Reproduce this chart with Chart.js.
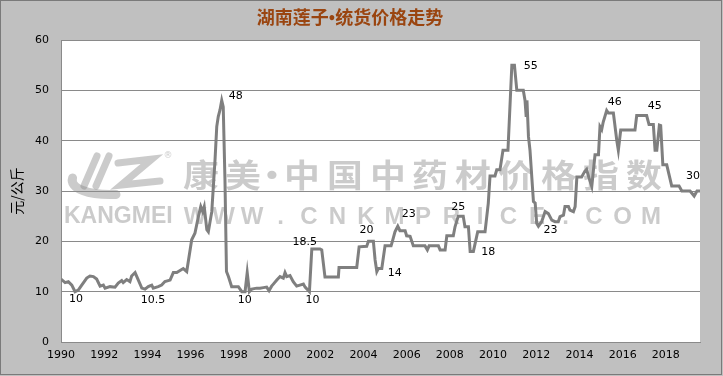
<!DOCTYPE html>
<html>
<head>
<meta charset="utf-8">
<script src="https://cdn.jsdelivr.net/npm/chart.js@4.4.1/dist/chart.umd.min.js"></script>
<style>
  html, body { margin:0; padding:0; background:#c0c0c0; }
  #wrap { width:723px; height:376px; }
</style>
</head>
<body>
<div id="wrap"><canvas id="chartPrecio" width="723" height="376"></canvas></div>
<script>
// ── Datos ────────────────────────────────────────────────────────────────────
const YEARS = [
  1990.00,1990.19,1990.34,1990.50,1990.65,1990.80,1990.96,1991.19,1991.34,1991.50,1991.65,1991.81,1991.96,
  1992.04,1992.27,1992.50,1992.65,1992.81,1992.88,1993.04,1993.19,1993.27,1993.43,1993.50,1993.74,1993.89,
  1994.04,1994.20,1994.27,1994.50,1994.66,1994.81,1995.05,1995.20,1995.36,1995.51,1995.66,1995.82,
  1996.05,1996.20,1996.36,1996.47,1996.56,1996.63,1996.75,1996.82,1996.98,1997.13,1997.21,1997.28,1997.36,
  1997.44,1997.51,1997.59,1997.66,1997.75,1997.90,1998.21,1998.37,1998.52,1998.62,1998.72,1998.83,
  1999.06,1999.21,1999.37,1999.52,1999.63,1999.75,1999.83,1999.99,2000.14,2000.29,2000.37,2000.45,2000.60,
  2000.75,2000.91,2001.06,2001.22,2001.30,2001.50,2001.61,2001.99,2002.07,2002.22,2002.84,2002.87,2003.69,
  2003.80,2004.15,2004.23,2004.46,2004.54,2004.62,2004.69,2004.85,2005.00,2005.28,2005.34,2005.46,2005.59,
  2005.69,2005.93,2006.00,2006.16,2006.31,2006.85,2006.96,2007.04,2007.47,2007.55,2007.78,2007.86,2008.16,
  2008.24,2008.39,2008.62,2008.70,2008.86,2008.94,2009.09,2009.29,2009.63,2009.78,2009.86,2010.09,2010.17,
  2010.32,2010.46,2010.69,2010.87,2010.99,2011.10,2011.40,2011.48,2011.53,2011.57,2011.64,2011.71,2011.87,
  2011.95,2012.02,2012.10,2012.25,2012.41,2012.56,2012.72,2012.87,2013.02,2013.10,2013.26,2013.33,2013.49,
  2013.56,2013.72,2013.80,2013.88,2014.10,2014.26,2014.33,2014.44,2014.57,2014.72,2014.88,2014.95,2015.03,
  2015.10,2015.26,2015.34,2015.57,2015.73,2015.80,2015.91,2016.57,2016.65,2017.11,2017.22,2017.42,2017.50,
  2017.58,2017.70,2017.76,2017.86,2018.04,2018.27,2018.61,2018.74,2019.12,2019.31,2019.44,2019.58
];
const PRICES = [
  12.5,11.8,12.0,11.3,10.0,10.3,11.3,12.7,13.1,13.0,12.5,11.1,11.3,
  10.7,11.0,10.9,11.7,12.2,11.8,12.4,12.0,13.1,13.8,13.1,10.7,10.5,
  11.0,11.3,10.7,11.0,11.3,12.0,12.3,13.8,13.8,14.2,14.6,14.0,
  20.3,21.6,24.9,26.9,25.9,26.9,22.3,21.9,25.9,36.2,42.8,44.8,46.1,
  48.0,46.7,32.2,14.0,13.0,11.0,11.0,10.0,10.0,13.8,10.0,10.5,
  10.7,10.7,10.8,10.9,10.2,11.1,11.5,12.3,13.0,12.7,13.8,13.0,13.2,
  12.0,11.1,11.3,11.5,10.9,10.0,18.5,18.5,18.3,12.9,12.9,14.8,14.8,
  18.9,19.0,20.0,20.0,16.3,14.0,14.6,14.6,19.1,19.1,20.0,21.9,23.0,
  22.1,22.1,21.1,21.0,19.1,19.1,18.3,19.1,19.1,18.3,18.3,21.1,21.1,
  22.9,25.0,25.0,22.9,22.9,18.0,18.0,21.9,21.9,27.6,33.0,33.0,34.2,
  34.2,38.1,38.1,55.0,55.0,50.0,50.0,48.0,45.0,48.0,40.8,38.1,27.9,
  27.6,23.6,23.0,23.9,25.9,25.5,24.2,23.9,23.9,24.9,25.2,26.9,26.9,
  26.2,25.9,26.9,32.8,32.8,34.0,34.3,32.6,30.9,37.2,37.2,42.8,42.2,
  43.7,46.0,45.5,45.5,40.0,38.1,42.1,42.1,45.0,45.0,43.2,43.2,38.1,
  38.1,43.1,43.0,35.2,35.2,31.0,31.0,30.0,30.0,29.0,30.0,30.0
];
const X_TICKS = [1990,1992,1994,1996,1998,2000,2002,2004,2006,2008,2010,2012,2014,2016,2018];

// etiquetas de precio (punto anotado y texto)
const LABEL_YEARS  = [1990.65,1993.89,1997.44,1998.37,2001.61,2001.50,2004.23,2004.62,2005.59,2008.39,2008.94,2010.87,2012.10,2015.26,2016.65,2019.44];
const LABEL_VALUES = [10,10.5,48,10,18.5,10,20,14,23,25,18,55,23,46,45,30];
const LABEL_TEXTS  = ['10','10.5','48','10','18.5','10','20','14','23','25','18','55','23','46','45','30'];
// desplazamiento del texto respecto al punto (px)
const LABEL_OFFSETS = [[1,7],[8,11],[14,-4],[3,8],[-7,-7],[3,8],[-2,-11],[18,2],[11,-12],[0,-9],[18,1],[19,1],[12,4],[8,-8],[18,-9],[-4,-15]];

const gridGray = '#8a8a8a';
const fontTxt = 'DejaVu Sans';

// ── Fondo, marco y marca de agua ─────────────────────────────────────────────
const fondo = {
  id:'fondo',
  beforeDraw(chart) {
    const {ctx, chartArea:a} = chart;
    ctx.save();
    ctx.fillStyle = '#c0c0c0';
    ctx.fillRect(0, 0, chart.width, chart.height);
    ctx.fillStyle = '#ffffff';
    ctx.fillRect(a.left, a.top, a.right - a.left, a.bottom - a.top);
    ctx.strokeStyle = '#7a7a7a';
    ctx.lineWidth = 1;
    ctx.strokeRect(0.5, 0.5, chart.width - 2, chart.height - 2);
    ctx.restore();
  },
  beforeDatasetsDraw(chart) {
    const {ctx} = chart;
    ctx.save();
    const wm = 'rgba(140,140,140,0.45)';
    ctx.fillStyle = wm;
    ctx.strokeStyle = wm;
    // logo
    ctx.lineCap = 'round';
    ctx.lineWidth = 9;
    ctx.beginPath();
    ctx.ellipse(122, 176, 50, 18, -0.1, 0.55*Math.PI, 1.05*Math.PI);
    ctx.stroke();
    ctx.lineWidth = 7;
    ctx.beginPath();
    ctx.moveTo(84, 186); ctx.lineTo(97, 156);
    ctx.moveTo(96, 186); ctx.lineTo(109, 156);
    ctx.stroke();
    ctx.beginPath();
    ctx.moveTo(118, 163); ctx.lineTo(152, 159); ctx.lineTo(121, 185); ctx.lineTo(160, 181);
    ctx.stroke();
    ctx.font = '9px ' + fontTxt;
    ctx.textAlign = 'center'; ctx.textBaseline = 'middle';
    ctx.fillText('®', 168, 156);
    // texto chino
    const cn = ['康','美','·','中','国','中','药','材','价','格','指','数'];
    const cnX = [201,243,272,302,345,388,430,473,516,559,601,644];
    ctx.font = 'bold 32px "Noto Sans CJK SC"';
    cn.forEach((ch, i) => {
      ctx.save();
      ctx.translate(cnX[i], 175);
      ctx.scale(1.12, 1);
      ctx.fillText(ch, 0, 0);
      ctx.restore();
    });
    // texto latino
    ctx.font = 'bold 23px "Liberation Sans"';
    ctx.textAlign = 'left';
    ctx.fillText('KANGMEI', 64, 217);
    ctx.textAlign = 'center';
    ctx.font = 'bold 24px "Liberation Sans"';
    'WWW.CNKMPRICE.COM'.split('').forEach((ch, i) => ctx.fillText(ch, 195 + i*28.5, 217));
    ctx.restore();
  },
  afterDatasetsDraw(chart) {
    const {ctx, scales:{x, y}} = chart;
    ctx.save();
    ctx.font = '11px ' + fontTxt;
    ctx.fillStyle = '#000';
    ctx.textAlign = 'center';
    ctx.textBaseline = 'middle';
    LABEL_TEXTS.forEach((t, i) => {
      const px = x.getPixelForValue(LABEL_YEARS[i]) + LABEL_OFFSETS[i][0];
      const py = y.getPixelForValue(LABEL_VALUES[i]) + LABEL_OFFSETS[i][1];
      ctx.fillText(t, px, py);
    });
    ctx.restore();
  }
};

// ── Gráfica ──────────────────────────────────────────────────────────────────
new Chart(document.getElementById('chartPrecio'), {
  type:'line',
  data:{
    datasets:[{
      data: YEARS.map((yr, i) => ({x: yr, y: PRICES[i]})),
      borderColor:'#7f7f7f', borderWidth:3, pointRadius:0, tension:0, fill:false
    }]
  },
  options:{
    responsive:false, animation:false, devicePixelRatio:1,
    layout:{ padding:{ left:0, right:23, top:0, bottom:0 } },
    plugins:{
      legend:{ display:false },
      tooltip:{ enabled:false },
      title:{
        display:true, text:'湖南莲子•统货价格走势', color:'#9a4510',
        font:{ family:'"Liberation Serif", "Noto Sans CJK SC"', size:18, weight:'bold' },
        padding:{ top:9, bottom:9.4 }
      }
    },
    scales:{
      x:{
        type:'linear', min:1990, max:2019.58,
        afterBuildTicks: s => { s.ticks = X_TICKS.map(v => ({value:v})); },
        afterFit: s => { s.height = 34; },
        grid:{ display:false, drawTicks:false },
        border:{ color:gridGray },
        ticks:{ font:{ family:fontTxt, size:11 }, color:'#000', padding:7, maxRotation:0, autoSkip:false, callback: v => String(v) }
      },
      y:{
        min:0, max:60,
        afterFit: s => { s.width = 61; },
        grid:{ color:gridGray, drawTicks:false },
        border:{ color:gridGray },
        ticks:{ stepSize:10, font:{ family:fontTxt, size:11 }, color:'#000', padding:12 },
        title:{ display:true, text:'元/公斤', color:'#000', font:{ family:'"Noto Sans CJK SC"', size:14 }, padding:{ top:8, bottom:0 } }
      }
    }
  },
  plugins:[fondo]
});
</script>
</body>
</html>
